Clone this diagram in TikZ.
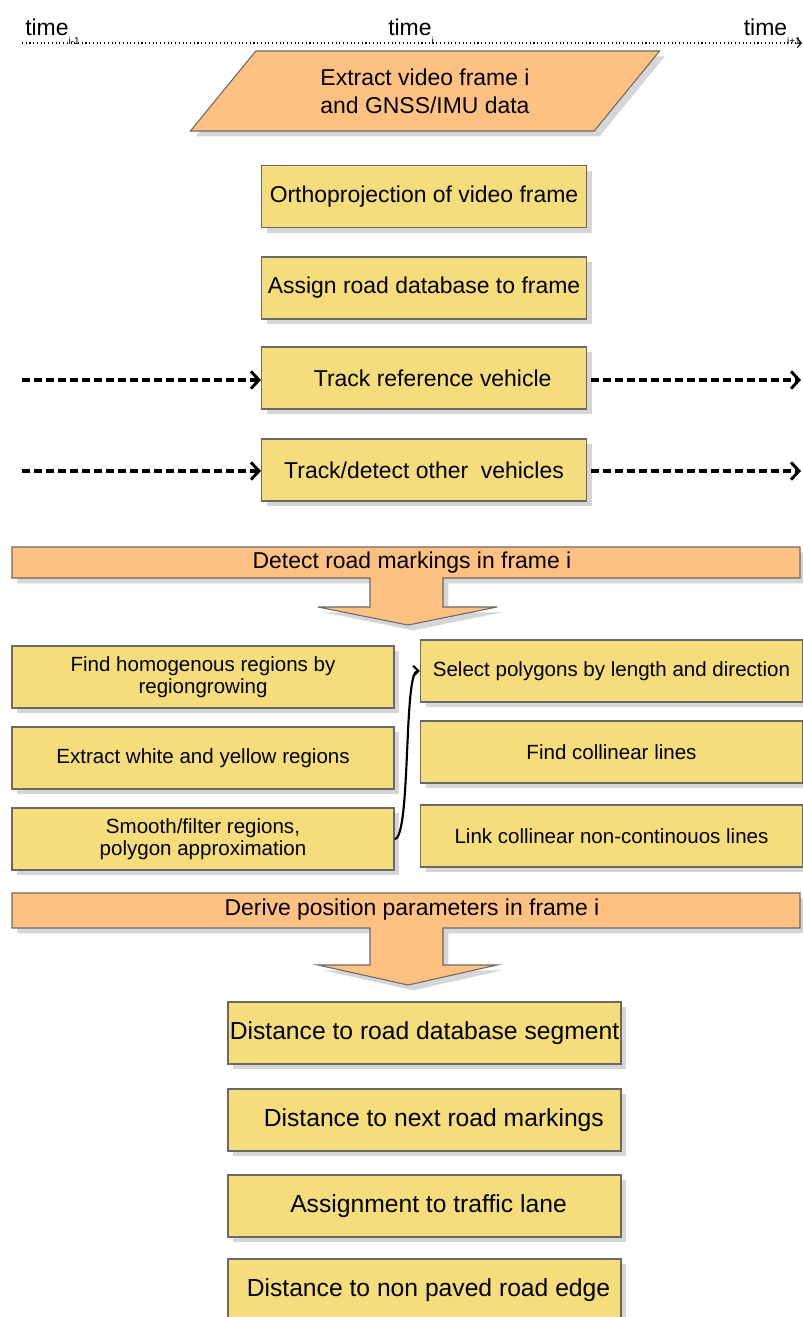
\documentclass[tikz,border=0pt]{standalone}
\usepackage{fontspec}
\setmainfont{Liberation Sans}
\usepackage{tikz}
\usetikzlibrary{arrows.meta,shadows,shapes.geometric}
\definecolor{boxyellow}{RGB}{244,221,122}
\definecolor{boxorange}{RGB}{255,193,130}
\definecolor{boxline}{RGB}{105,105,105}
\definecolor{shadegray}{RGB}{214,214,214}
\newcommand\tsub[1]{\raisebox{-0.8ex}{\fontsize{7.5}{7.5}\selectfont #1}}

\begin{document}
\begin{tikzpicture}[x=0.75pt, y=-0.75pt, font=\fontsize{17.2}{21}\selectfont,
  boxshadow/.style={drop shadow={shadow xshift=4pt, shadow yshift=-4pt, fill=shadegray, opacity=1}},
  stepbox/.style={draw=boxline, fill=boxyellow, line width=0.8pt, minimum height=46.5pt, inner sep=0pt, boxshadow},
  mainbox/.style={stepbox, minimum width=243.75pt},
  subbox/.style={stepbox, minimum width=286.5pt, align=center, font=\fontsize{15.4}{16.5}\selectfont},
  resultbox/.style={stepbox, minimum width=294.75pt, font=\fontsize{18.5}{22}\selectfont},
  nudge/.style={execute at begin node={\hspace*{#1}}},
  banner/.style={draw=boxline, fill=boxorange, line width=0.8pt, boxshadow},
  timeflow/.style={line width=3pt, dash pattern=on 6pt off 3pt, -{Straight Barb[length=6pt, width=13pt, line width=2.2pt]}},
  curvelink/.style={line width=1.6pt, -{Straight Barb[length=4pt, width=8pt]}}]
  \useasboundingbox (0,0) rectangle (803,1317);

  % time axis
  \coordinate (tstart) at (22,43);
  \coordinate (tend) at (802,43);
  \draw[dotted, line width=0.8pt, -{Straight Barb[length=3pt, width=7pt]}] (tstart) -- (tend);
  \node[anchor=base west, inner sep=0pt] (tprev) at (25,35) {time\tsub{i-1}};
  \node[anchor=base west, inner sep=0pt] (tnow) at (388,35) {time\tsub{i}};
  \node[anchor=base east, inner sep=0pt] (tnext) at (801,35) {time\tsub{i+1}};

  \node[trapezium, trapezium left angle=48, trapezium right angle=132, trapezium stretches=true,
    minimum width=352.5pt, minimum height=60pt, inner sep=0pt, banner, align=center] (extract) at (425,91)
    {Extract video frame i\\and GNSS/IMU data};

  \node[mainbox] (ortho) at (424,196.5) {Orthoprojection of video frame};
  \node[mainbox] (assign) at (424,288) {Assign road database to frame};
  \node[mainbox, nudge=13pt] (trackref) at (424,378) {Track reference vehicle};
  \node[mainbox] (trackother) at (424,470) {Track/detect other~ vehicles};

  \coordinate (refin) at (22,380);
  \coordinate (refout) at (801,380);
  \coordinate (otherin) at (22,471);
  \coordinate (otherout) at (801,471);
  \draw[timeflow] (refin) -- (refin -| trackref.west);
  \draw[timeflow] ([xshift=3pt]trackref.east |- refout) -- (refout);
  \draw[timeflow] (otherin) -- (otherin -| trackother.west);
  \draw[timeflow] ([xshift=3pt]trackother.east |- otherout) -- (otherout);

  \draw[banner] (12,547) -- (800,547) -- (800,578) -- (443,578) -- (443,607) -- (497,607) -- (408,625)
    -- (318,607) -- (370,607) -- (370,578) -- (12,578) -- cycle;
  \node (markings) at (412,563) {Detect road markings in frame i};

  \node[subbox] (regions) at (203,677) {Find homogenous regions by\\regiongrowing};
  \node[subbox] (colors) at (203,758) {Extract white and yellow regions};
  \node[subbox] (smooth) at (203,839) {Smooth/filter regions,\\polygon approximation};
  \node[subbox] (select) at (611.5,671) {Select polygons by length and direction};
  \node[subbox] (collinear) at (611.5,752) {Find collinear lines};
  \node[subbox] (link) at (611.5,836) {Link collinear non-continouos lines};
  \draw[curvelink] (smooth.east) to[out=0, in=180, looseness=0.25] (select.west);

  \draw[banner] (12,893) -- (800,893) -- (800,928) -- (443,928) -- (443,965) -- (497,965) -- (408,985)
    -- (318,965) -- (370,965) -- (370,928) -- (12,928) -- cycle;
  \node (position) at (412,910) {Derive position parameters in frame i};

  \node[resultbox] (dbdist) at (424.5,1033) {Distance to road database segment};
  \node[resultbox, nudge=14pt] (markdist) at (424.5,1120) {Distance to next road markings};
  \node[resultbox, nudge=6pt] (lane) at (424.5,1206) {Assignment to traffic lane};
  \node[resultbox, nudge=6pt] (edgedist) at (424.5,1290) {Distance to non paved road edge};
\end{tikzpicture}
\end{document}
